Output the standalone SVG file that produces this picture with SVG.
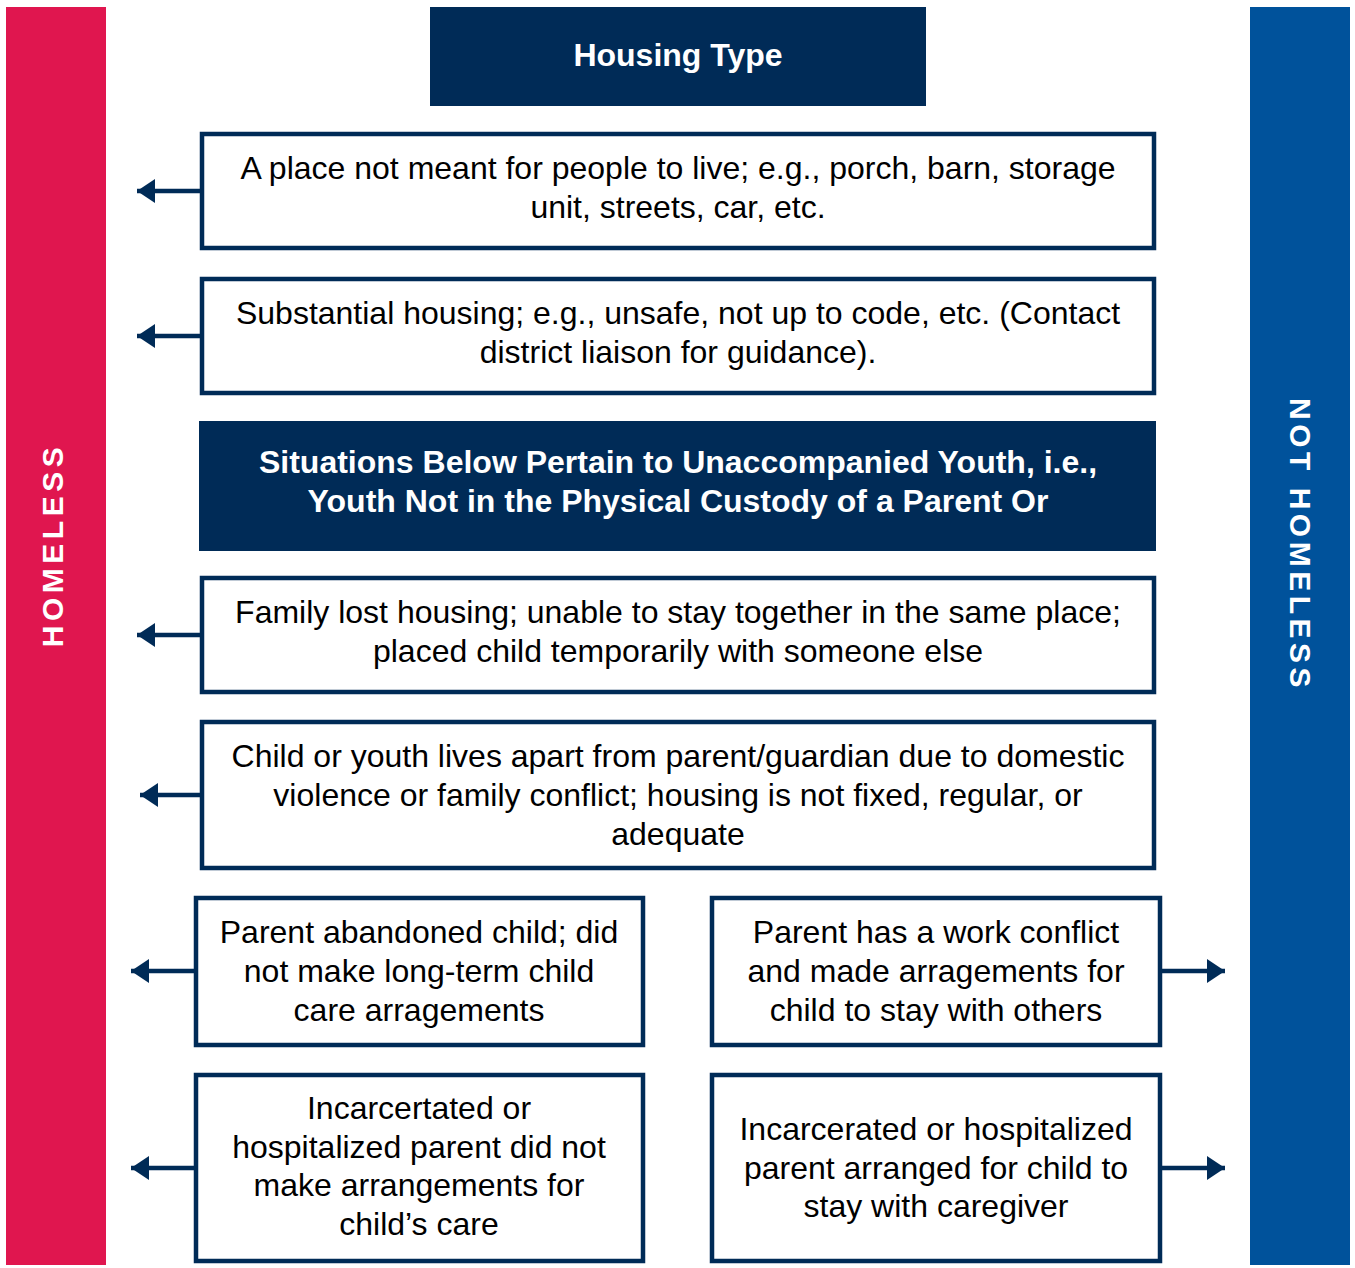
<svg xmlns="http://www.w3.org/2000/svg" width="1355" height="1268" viewBox="0 0 1355 1268">
<style>
.box{fill:#fff;stroke:#002b57;stroke-width:4.5}
.hdr{fill:#002b57}
.t{font-family:"Liberation Sans",Arial,sans-serif;font-size:32px;fill:#000;text-anchor:middle}
.h{font-family:"Liberation Sans",Arial,sans-serif;font-size:32px;font-weight:bold;fill:#fff;text-anchor:middle}
.side{font-family:"Liberation Sans",Arial,sans-serif;font-size:30px;font-weight:bold;fill:#fff;text-anchor:middle;letter-spacing:4.5px}
.c{stroke:#002b57;stroke-width:4.5;fill:none}
</style>
<defs>
<marker id="ah" viewBox="0 0 18 24" refX="18" refY="12" markerWidth="18" markerHeight="24" markerUnits="userSpaceOnUse" orient="auto">
<path d="M0,0 L18,12 L0,24 Z" fill="#002b57"/>
</marker>
</defs>
<rect width="1355" height="1268" fill="#fff"/>
<g id="homeless">
<rect x="6" y="7" width="100" height="1258" fill="#e0164f"/>
<text class="side" transform="translate(63,545) rotate(-90)">HOMELESS</text>
</g>
<g id="not-homeless">
<rect x="1250" y="7" width="100" height="1258" fill="#00529b"/>
<text class="side" transform="translate(1290,545) rotate(90)">NOT HOMELESS</text>
</g>
<g id="housing-type">
<rect class="hdr" x="430" y="7" width="496" height="99"/>
<text class="h" x="678" y="66">Housing Type</text>
</g>
<g id="n1">
<rect class="box" x="202" y="134" width="952" height="114"/>
<text class="t" x="678" y="179">A place not meant for people to live; e.g., porch, barn, storage</text>
<text class="t" x="678" y="218">unit, streets, car, etc.</text>
</g>
<g id="n2">
<rect class="box" x="202" y="279" width="952" height="114"/>
<text class="t" x="678" y="324">Substantial housing; e.g., unsafe, not up to code, etc. (Contact</text>
<text class="t" x="678" y="363">district liaison for guidance).</text>
</g>
<g id="unaccompanied">
<rect class="hdr" x="199" y="421" width="957" height="130"/>
<text class="h" x="678" y="473">Situations Below Pertain to Unaccompanied Youth, i.e.,</text>
<text class="h" x="678" y="512">Youth Not in the Physical Custody of a Parent Or</text>
</g>
<g id="n3">
<rect class="box" x="202" y="578" width="952" height="114"/>
<text class="t" x="678" y="623">Family lost housing; unable to stay together in the same place;</text>
<text class="t" x="678" y="662">placed child temporarily with someone else</text>
</g>
<g id="n4">
<rect class="box" x="202" y="722" width="952" height="146"/>
<text class="t" x="678" y="767">Child or youth lives apart from parent/guardian due to domestic</text>
<text class="t" x="678" y="806">violence or family conflict; housing is not fixed, regular, or</text>
<text class="t" x="678" y="845">adequate</text>
</g>
<g id="n5a">
<rect class="box" x="196" y="898" width="447" height="147"/>
<text class="t" x="419" y="943">Parent abandoned child; did</text>
<text class="t" x="419" y="982">not make long-term child</text>
<text class="t" x="419" y="1021">care arragements</text>
</g>
<g id="n5b">
<rect class="box" x="712" y="898" width="448" height="147"/>
<text class="t" x="936" y="943">Parent has a work conflict</text>
<text class="t" x="936" y="982">and made arragements for</text>
<text class="t" x="936" y="1021">child to stay with others</text>
</g>
<g id="n6a">
<rect class="box" x="196" y="1075" width="447" height="186"/>
<text class="t" x="419" y="1119">Incarcertated or</text>
<text class="t" x="419" y="1158">hospitalized parent did not</text>
<text class="t" x="419" y="1196">make arrangements for</text>
<text class="t" x="419" y="1235">child’s care</text>
</g>
<g id="n6b">
<rect class="box" x="712" y="1075" width="448" height="186"/>
<text class="t" x="936" y="1140">Incarcerated or hospitalized</text>
<text class="t" x="936" y="1179">parent arranged for child to</text>
<text class="t" x="936" y="1217">stay with caregiver</text>
</g>
<g id="connectors">
<line class="c" x1="200" y1="191" x2="137" y2="191" marker-end="url(#ah)"/>
<line class="c" x1="200" y1="336" x2="137" y2="336" marker-end="url(#ah)"/>
<line class="c" x1="200" y1="635" x2="137" y2="635" marker-end="url(#ah)"/>
<line class="c" x1="200" y1="795" x2="140" y2="795" marker-end="url(#ah)"/>
<line class="c" x1="194" y1="971" x2="131" y2="971" marker-end="url(#ah)"/>
<line class="c" x1="194" y1="1168" x2="131" y2="1168" marker-end="url(#ah)"/>
<line class="c" x1="1162" y1="971" x2="1225" y2="971" marker-end="url(#ah)"/>
<line class="c" x1="1162" y1="1168" x2="1225" y2="1168" marker-end="url(#ah)"/>
</g>
</svg>
